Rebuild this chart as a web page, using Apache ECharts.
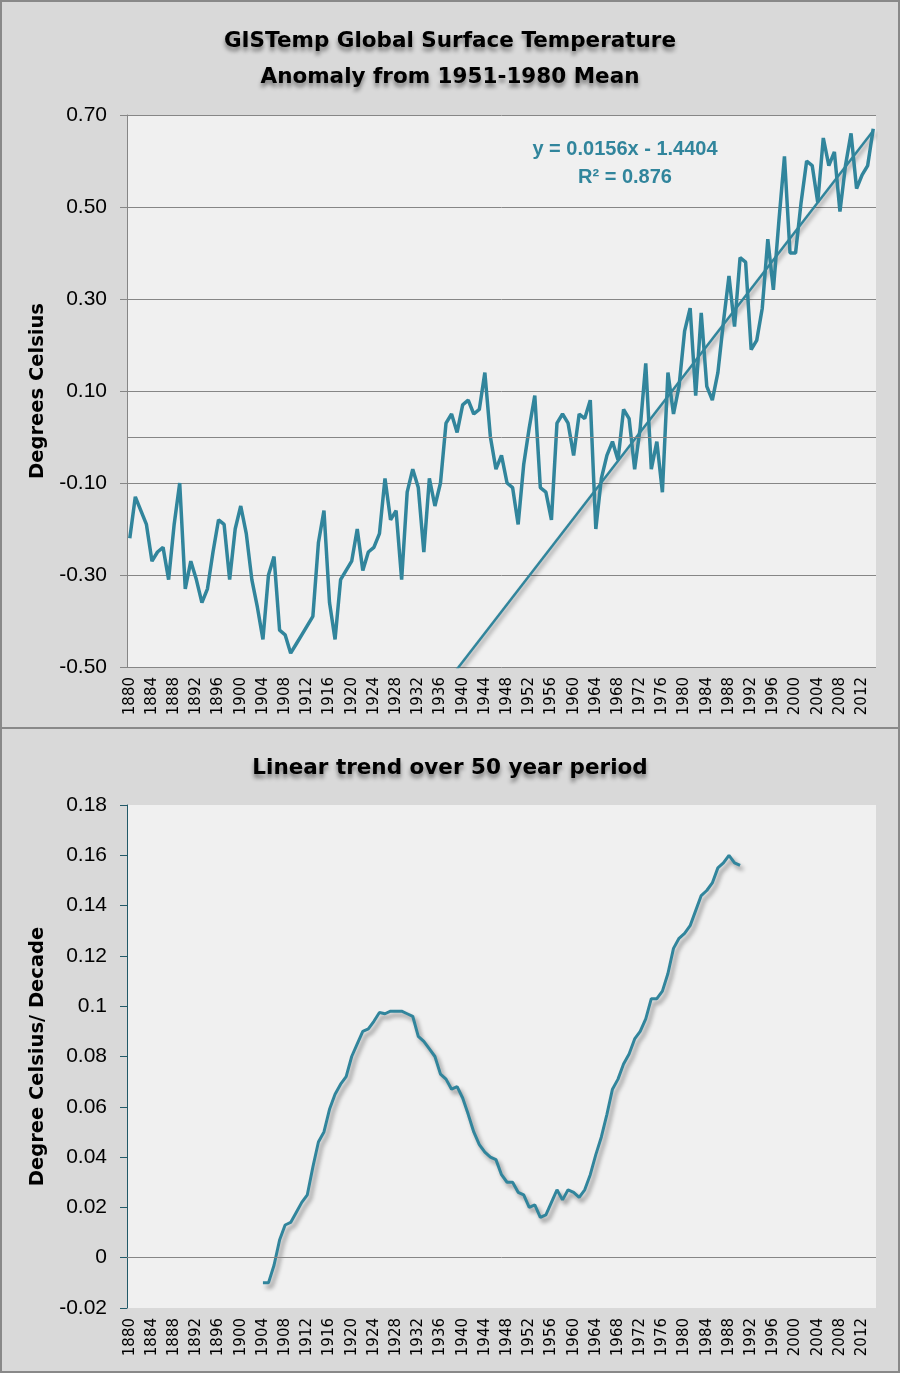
<!DOCTYPE html>
<html>
<head>
<meta charset="utf-8">
<title>GISTemp</title>
<script src="https://cdn.jsdelivr.net/npm/echarts@6/dist/echarts.min.js"></script>
<style>
body{margin:0;background:#fff;}
.box{position:absolute;left:0;width:900px;box-sizing:border-box;border:2px solid #898989;background:#d9d9d9;}
#tu_1{top:0;height:729px;}
#tu_2{top:727px;height:646px;}
</style>
</head>
<body>
<div id="tu_1" class="box"></div>
<div id="tu_2" class="box"></div>
<script>
// 年份 1880-2014
var firstYear = 1880, lastYear = 2014;
var years = [];
for (var y = firstYear; y <= lastYear; y++) { years.push(String(y)); }

// GISTemp 年均距平 (°C), 1880-2014
var anomaly = [
	-0.22,-0.13,-0.16,-0.19,-0.27,-0.25,-0.24,-0.31,-0.19,-0.10,
	-0.33,-0.27,-0.31,-0.36,-0.33,-0.25,-0.18,-0.19,-0.31,-0.20,
	-0.15,-0.21,-0.31,-0.37,-0.44,-0.30,-0.26,-0.42,-0.43,-0.47,
	-0.45,-0.43,-0.41,-0.39,-0.23,-0.16,-0.36,-0.44,-0.31,-0.29,
	-0.27,-0.20,-0.29,-0.25,-0.24,-0.21,-0.09,-0.18,-0.16,-0.31,
	-0.12,-0.07,-0.11,-0.25,-0.09,-0.15,-0.10, 0.03, 0.05, 0.01,
	 0.07, 0.08, 0.05, 0.06, 0.14, 0.00,-0.07,-0.04,-0.10,-0.11,
	-0.19,-0.06, 0.02, 0.09,-0.11,-0.12,-0.18, 0.03, 0.05, 0.03,
	-0.04, 0.05, 0.04, 0.08,-0.20,-0.09,-0.04,-0.01,-0.05, 0.06,
	 0.04,-0.07, 0.02, 0.16,-0.07,-0.01,-0.12, 0.14, 0.05, 0.11,
	 0.23, 0.28, 0.09, 0.27, 0.11, 0.08, 0.14, 0.25, 0.35, 0.24,
	 0.39, 0.38, 0.19, 0.21, 0.28, 0.43, 0.32, 0.47, 0.61, 0.40,
	 0.40, 0.51, 0.60, 0.59, 0.51, 0.65, 0.59, 0.62, 0.49, 0.59,
	 0.66, 0.54, 0.57, 0.59, 0.67
];

// 线性趋势 y = 0.0156x - 1.4404 的两端 (1880, 2014)
var trendEnds = [-1.4248, 0.6656];
var trendText = 'y = 0.0156x - 1.4404\nR² = 0.876';

// 50年滑动线性趋势 (°C/10年), 从1904年开始
var trendStartYear = 1904;
var trend50 = [
	-0.010,-0.010,-0.003, 0.007, 0.013, 0.014, 0.018, 0.022, 0.025, 0.036,
	 0.046, 0.050, 0.059, 0.065, 0.069, 0.072, 0.080, 0.085, 0.090, 0.091,
	 0.094, 0.0975,0.097, 0.098, 0.098, 0.098, 0.097, 0.096, 0.088, 0.086,
	 0.083, 0.080, 0.073, 0.071, 0.067, 0.068, 0.0635,0.057, 0.050, 0.045,
	 0.042, 0.040, 0.039, 0.033, 0.030, 0.030, 0.026, 0.025, 0.020, 0.021,
	 0.016, 0.017, 0.022, 0.027, 0.023, 0.027, 0.026, 0.024, 0.027, 0.033,
	 0.041, 0.048, 0.057, 0.067, 0.071, 0.077, 0.081, 0.087, 0.090, 0.095,
	 0.103, 0.103, 0.106, 0.113, 0.123, 0.127, 0.129, 0.132, 0.138, 0.144,
	 0.146, 0.149, 0.155, 0.157, 0.160, 0.157, 0.156
];

var lineColor = '#31859C';
var gridColor = '#868686';

var myChart_1, myChart_2;

function titleStyle(){
	return {
		fontFamily:'DejaVu Sans', fontWeight:'bold', fontSize:21.5, lineHeight:36, color:'#000',
		textShadowColor:'rgba(0,0,0,0.45)', textShadowBlur:4, textShadowOffsetY:4
	};
}
function xAxisOpt(){
	return {
		type:'category',
		data:years,
		boundaryGap:true,
		axisLine:{show:false, onZero:false},
		axisTick:{show:false},
		axisLabel:{interval:3, rotate:90, margin:10, fontFamily:'DejaVu Sans', fontSize:15, color:'#000'},
		splitLine:{show:false}
	};
}
function zeroLine(){
	return {
		silent:true, symbol:'none', label:{show:false}, animation:false,
		lineStyle:{color:gridColor, type:'solid', width:1, shadowBlur:0, shadowColor:'transparent'},
		data:[{yAxis:0}]
	};
}

function a1(){
	myChart_1 = echarts.init(document.getElementById('tu_1'));
	var trendData = years.map(function(){ return null; });
	trendData[0] = trendEnds[0];
	trendData[years.length-1] = trendEnds[1];
	var option = {
		animation:false,
		title:{
			text:'GISTemp Global Surface Temperature\nAnomaly from 1951-1980 Mean',
			left:'center', top:16,
			textStyle:titleStyle()
		},
		grid:{left:125, top:113, width:749, height:552, show:true, backgroundColor:'#F0F0F0', borderWidth:0},
		xAxis:xAxisOpt(),
		yAxis:{
			type:'value', min:-0.5, max:0.7, interval:0.2,
			name:'Degrees Celsius', nameLocation:'middle', nameGap:76,
			nameTextStyle:{fontFamily:'DejaVu Sans', fontWeight:'bold', fontSize:19.5, color:'#000'},
			axisLine:{show:true, lineStyle:{color:gridColor, width:1}},
			axisTick:{show:true, length:7, lineStyle:{color:gridColor}},
			axisLabel:{margin:20, fontFamily:'Liberation Sans', fontSize:21, color:'#000',
				formatter:function(v){ return v.toFixed(2); }},
			splitLine:{show:true, lineStyle:{color:gridColor, width:1}}
		},
		graphic:[{
			type:'text', x:623, y:161,
			style:{text:trendText, align:'center', verticalAlign:'middle', lineHeight:28,
				fontFamily:'Liberation Sans', fontWeight:'bold', fontSize:20, fill:lineColor}
		}],
		series:[
			{
				name:'trend', type:'line', data:trendData, connectNulls:true, symbol:'none',
				clip:true, z:2,
				lineStyle:{color:lineColor, width:2.5,
					shadowColor:'rgba(0,0,0,0.4)', shadowBlur:4, shadowOffsetX:2, shadowOffsetY:3}
			},
			{
				name:'GISTemp', type:'line', data:anomaly, symbol:'none', z:3,
				lineStyle:{color:lineColor, width:3.5},
				markLine:zeroLine()
			}
		]
	};
	myChart_1.setOption(option);
}

function a2(){
	myChart_2 = echarts.init(document.getElementById('tu_2'));
	var data = years.map(function(){ return null; });
	var off = trendStartYear - firstYear;
	for (var i = 0; i < trend50.length; i++) { data[off+i] = trend50[i]; }
	var axisDark = '#215968';
	var option = {
		animation:false,
		title:{
			text:'Linear trend over 50 year period',
			left:'center', top:16,
			textStyle:titleStyle()
		},
		grid:{left:125, top:76, width:749, height:503, show:true, backgroundColor:'#F0F0F0', borderWidth:0},
		xAxis:xAxisOpt(),
		yAxis:{
			type:'value', min:-0.02, max:0.18, interval:0.02,
			name:'Degree Celsius/ Decade', nameLocation:'middle', nameGap:76,
			nameTextStyle:{fontFamily:'DejaVu Sans', fontWeight:'bold', fontSize:19.5, color:'#000'},
			axisLine:{show:true, lineStyle:{color:axisDark, width:1}},
			axisTick:{show:true, length:7, lineStyle:{color:axisDark}},
			axisLabel:{margin:20, fontFamily:'Liberation Sans', fontSize:21, color:'#000'},
			splitLine:{show:false}
		},
		series:[{
			name:'50yr trend', type:'line', data:data, symbol:'none',
			lineStyle:{color:lineColor, width:3,
				shadowColor:'rgba(0,0,0,0.4)', shadowBlur:4, shadowOffsetX:3, shadowOffsetY:4},
			markLine:zeroLine()
		}]
	};
	myChart_2.setOption(option);
}

a1();
a2();
window.onresize = function(){
	if (myChart_1) { myChart_1.resize(); }
	if (myChart_2) { myChart_2.resize(); }
};
</script>
</body>
</html>
